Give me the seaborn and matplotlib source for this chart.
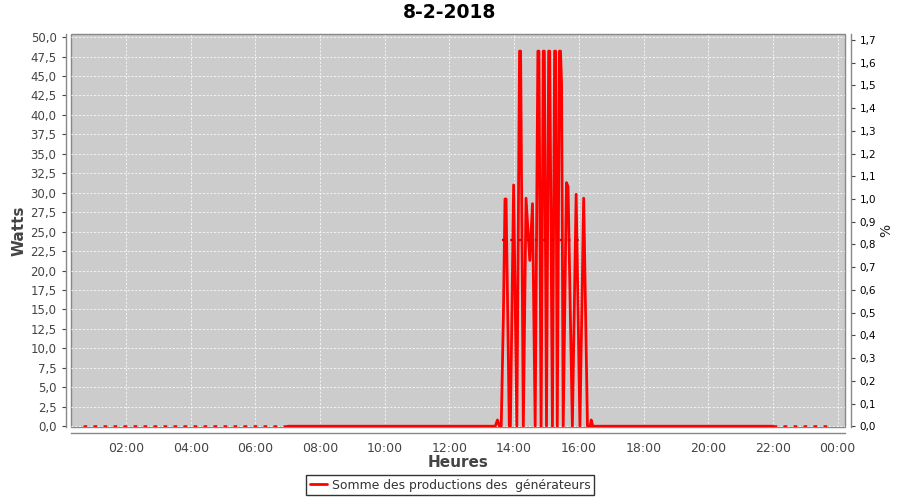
import numpy as np
import pandas as pd
import seaborn as sns
import matplotlib.pyplot as plt
import matplotlib.dates as mdates
from matplotlib.ticker import FuncFormatter, MultipleLocator

day = '2018-02-08'

# journee (trait plein)
day_times = ['07:00', '13:25', '13:29', '13:33', '13:36', '13:40', '13:43', '13:45',
             '13:51', '13:53', '13:59', '14:05', '14:10', '14:11', '14:12', '14:17',
             '14:22', '14:29', '14:34', '14:39', '14:44', '14:45', '14:46', '14:50',
             '14:54', '14:55', '14:56', '15:00', '15:04', '15:05', '15:06', '15:11',
             '15:15', '15:16', '15:17', '15:20', '15:24', '15:25', '15:26', '15:28',
             '15:31', '15:37', '15:40', '15:48', '15:55', '16:02', '16:09', '16:16',
             '16:21', '16:23', '16:26', '22:00']
day_watts = [0.0, 0.0, 0.8, 0.0, 0.0, 14.0, 29.2, 29.2,
             0.0, 0.0, 31.0, 0.0, 48.2, 48.2, 48.2, 0.0,
             29.3, 21.3, 28.6, 0.0, 48.2, 48.2, 48.2, 0.0,
             48.2, 48.2, 48.2, 0.0, 48.2, 48.2, 48.2, 0.0,
             48.2, 48.2, 48.2, 0.0, 48.2, 48.2, 48.2, 44.0,
             0.0, 31.3, 30.8, 0.0, 29.8, 0.0, 29.3, 0.0,
             0.0, 0.8, 0.0, 0.0]

# nuit (pointilles)
night_times = ['00:40', '07:00', '22:00', '23:45']
night_watts = [0.0, 0.0, 0.0, 0.0]
night_seg = [0, 0, 1, 1]

# serie en %
pct_times = ['13:38', '16:10']
pct_values = [0.82, 0.82]

df_day = pd.DataFrame({'time': pd.to_datetime([day + ' ' + t for t in day_times]),
                       'watts': day_watts})
df_night = pd.DataFrame({'time': pd.to_datetime([day + ' ' + t for t in night_times]),
                         'watts': night_watts, 'seg': night_seg})
df_pct = pd.DataFrame({'time': pd.to_datetime([day + ' ' + t for t in pct_times]),
                       'pct': pct_values})

sns.set_style('white')
plt.rcParams['font.family'] = ['DejaVu Sans']

fig, ax = plt.subplots(figsize=(9, 5), dpi=100)
fig.subplots_adjust(left=0.079, right=0.939, top=0.932, bottom=0.146)

ax.set_facecolor('#cccccc')
ax.grid(True, color='white', linestyle=(0, (2.5, 2)), linewidth=0.6, alpha=0.9)
ax.set_axisbelow(True)

sns.lineplot(data=df_night, x='time', y='watts', units='seg', estimator=None, ax=ax,
             color='#ff0000', linestyle=(0, (1.5, 2.5)), linewidth=1.8, legend=False)
sns.lineplot(data=df_day, x='time', y='watts', ax=ax, color='#ff0000',
             linewidth=2.0, label='Somme des productions des  générateurs')

ax2 = ax.twinx()
sns.lineplot(data=df_pct, x='time', y='pct', ax=ax2, color='#dd0000',
             linestyle=(0, (1.2, 2.5)), linewidth=1.6, legend=False)

comma = lambda v, p: ('%.1f' % v).replace('.', ',')

ax.set_xlim(pd.Timestamp(day + ' 00:18'), pd.Timestamp('2018-02-09 00:14'))
ax.set_xticks(pd.date_range(day + ' 02:00', '2018-02-09 00:00', freq='2h'))
ax.xaxis.set_major_formatter(mdates.DateFormatter('%H:%M'))
ax.set_ylim(-0.1, 50.4)
ax.yaxis.set_major_locator(MultipleLocator(2.5))
ax.yaxis.set_major_formatter(FuncFormatter(comma))

ax2.set_ylim(-0.003, 1.726)
ax2.yaxis.set_major_locator(MultipleLocator(0.1))
ax2.yaxis.set_major_formatter(FuncFormatter(comma))
ax2.set_xlim(ax.get_xlim())

ax.tick_params(axis='both', labelsize=8.5, colors='#444444', length=3, width=0.8)
ax.tick_params(axis='x', labelsize=9)
ax2.tick_params(axis='y', labelsize=7.5, colors='#444444', labelcolor='black', length=3, width=0.8)

ax.set_xlabel('Heures', fontsize=11, fontweight='bold', color='#444444', labelpad=0)
ax.set_ylabel('Watts', fontsize=11, fontweight='bold', color='#444444', labelpad=3)
ax2.set_ylabel('%', fontsize=10, color='#222222', labelpad=2)

for a in (ax, ax2):
    for s in a.spines.values():
        s.set_color('#888888')
        s.set_linewidth(1)
ax.spines['left'].set_position(('outward', 4))
ax.spines['bottom'].set_position(('outward', 4))
ax.spines['top'].set_visible(False)
ax.spines['right'].set_visible(False)
ax2.spines['left'].set_visible(False)
ax2.spines['bottom'].set_visible(False)
ax2.spines['top'].set_visible(False)
ax2.spines['right'].set_position(('outward', 4))
ax.patch.set_edgecolor('#888888')
ax.patch.set_linewidth(1)

fig.suptitle('8-2-2018', fontsize=13.5, fontweight='bold', color='black', y=0.995)

handles, labels = ax.get_legend_handles_labels()
ax.get_legend().remove()
leg = fig.legend(handles, labels, loc='lower center', bbox_to_anchor=(0.5, -0.003),
                 fontsize=8.9, frameon=True, fancybox=False, handlelength=1.4,
                 borderpad=0.3, handletextpad=0.4)
leg.get_frame().set_edgecolor('black')
leg.get_frame().set_linewidth(1)
for t in leg.get_texts():
    t.set_color('#333333')

fig.savefig('out.png', dpi=100)
